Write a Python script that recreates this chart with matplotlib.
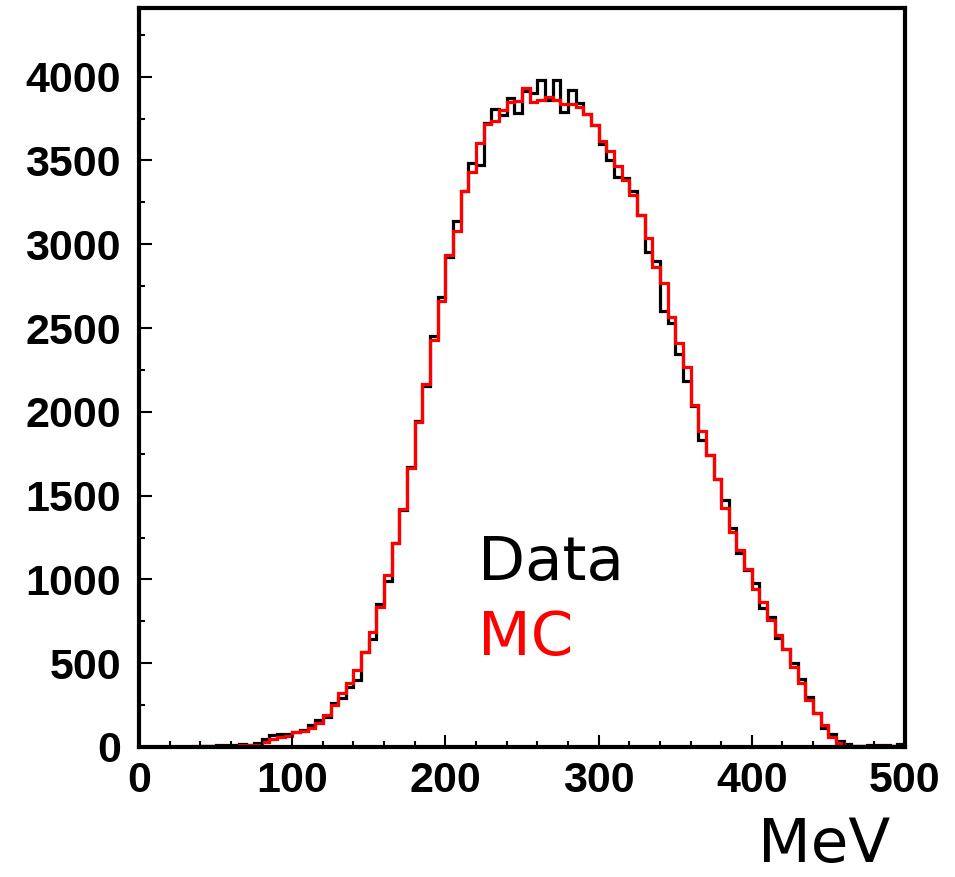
import numpy as np
import matplotlib
matplotlib.use("Agg")
import matplotlib.pyplot as plt
from matplotlib.ticker import MultipleLocator

# 100 bins of 5 MeV from 0 to 500
edges = np.arange(0, 505, 5)

data = [0, 0, 0, 0, 0, 0, 0, 0, 8, 6,
        10, 14, 12, 16, 14, 26, 46, 74, 75, 76,
        88, 100, 131, 161, 181, 261, 290, 360, 400, 565,
        645, 853, 990, 1215, 1415, 1670, 1945, 2155, 2450, 2688,
        2926, 3136, 3317, 3483, 3473, 3723, 3807, 3771, 3874, 3781,
        3916, 3904, 3980, 3860, 3980, 3791, 3920, 3846, 3775, 3711,
        3600, 3500, 3403, 3395, 3319, 3174, 2955, 2900, 2600, 2528,
        2345, 2185, 2035, 1830, 1745, 1599, 1474, 1305, 1159, 1055,
        977, 828, 778, 648, 585, 499, 404, 300, 205, 112,
        76, 38, 18, 6, 4, 10, 10, 10, 8, 16]

mc = [2, 2, 2, 2, 2, 2, 2, 4, 8, 8,
      8, 8, 8, 9, 10, 14, 28, 45, 60, 64,
      88, 95, 111, 141, 191, 251, 320, 380, 457, 569,
      685, 838, 1026, 1218, 1420, 1662, 1937, 2168, 2430, 2664,
      2935, 3082, 3317, 3433, 3602, 3717, 3733, 3801, 3850, 3856,
      3934, 3848, 3860, 3876, 3860, 3840, 3836, 3820, 3775, 3711,
      3615, 3555, 3470, 3385, 3294, 3174, 3035, 2865, 2770, 2567,
      2413, 2269, 2038, 1887, 1745, 1599, 1428, 1285, 1175, 1062,
      941, 867, 758, 668, 585, 479, 380, 280, 205, 131,
      62, 26, 6, 3, 3, 3, 3, 3, 3, 3]

fig = plt.figure(figsize=(9.55, 8.77), dpi=100)
ax = fig.add_axes([139 / 955, 130 / 877, 766 / 955, 739 / 877])

ax.stairs(data, edges, color="black", lw=2.3)
ax.stairs(mc, edges, color="red", lw=2.3)

ax.set_xlim(0, 500)
ax.set_ylim(0, 4410)

for sp in ax.spines.values():
    sp.set_linewidth(3)

ax.xaxis.set_major_locator(MultipleLocator(100))
ax.xaxis.set_minor_locator(MultipleLocator(20))
ax.yaxis.set_major_locator(MultipleLocator(500))
ax.yaxis.set_minor_locator(MultipleLocator(250))
ax.tick_params(which="both", direction="in", width=1.5)
ax.tick_params(which="major", length=9)
ax.tick_params(which="minor", length=4.5)
ax.tick_params(axis="x", pad=10)
ax.tick_params(axis="y", pad=13)

for lab in ax.get_xticklabels() + ax.get_yticklabels():
    lab.set_family(["Liberation Sans", "DejaVu Sans"])
    lab.set_fontsize(31)
    lab.set_fontweight("bold")

ax.text(221, 996, "Data", color="black", fontsize=44, va="baseline")
ax.text(221, 549, "MC", color="red", fontsize=44, va="baseline")
fig.text(890 / 955, 2 / 877, "MeV", fontsize=44, ha="right", va="bottom")

fig.savefig("out.png", dpi=100)
